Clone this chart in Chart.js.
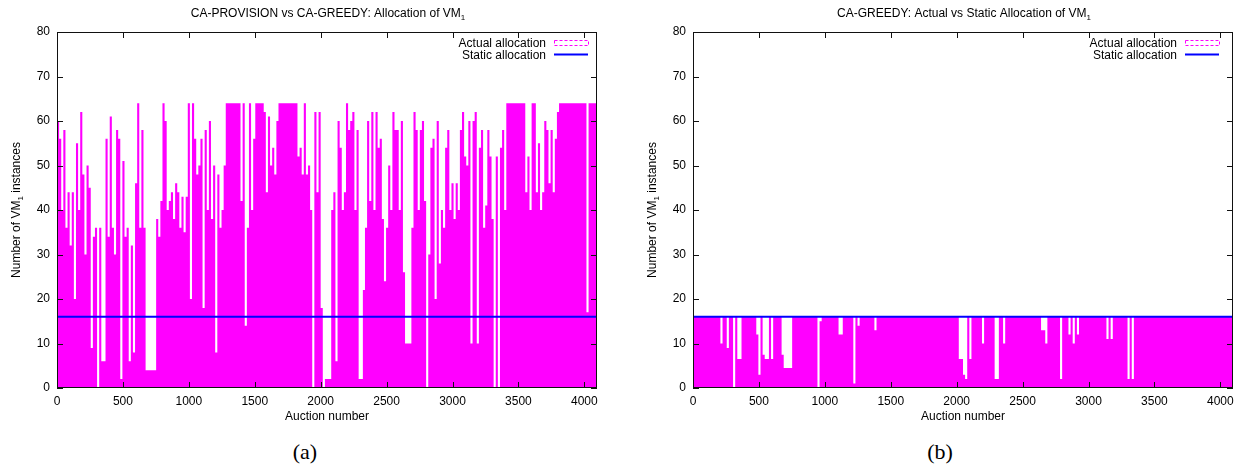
<!DOCTYPE html>
<html><head><meta charset="utf-8">
<script src="https://cdn.jsdelivr.net/npm/chart.js@4.4.1/dist/chart.umd.min.js"></script>
<style>
html,body{margin:0;padding:0;background:#fff;width:1245px;height:471px;overflow:hidden;}
#ca{position:absolute;left:0;top:0;}
#cb{position:absolute;left:636px;top:0;}
.lab{position:absolute;top:439px;width:60px;text-align:center;line-height:26px;font-family:'Liberation Serif','DejaVu Serif',serif;font-size:22px;color:#000;}
</style></head><body>
<canvas id="ca" width="620" height="430"></canvas>
<canvas id="cb" width="609" height="430"></canvas>
<div class="lab" style="left:275px">(a)</div>
<div class="lab" style="left:910px">(b)</div>
<script>
// ---- data (one value per 16-auction bin = max allocation in that bin) ----
const binWidth = 16;
const xMax = 4096;
const staticAlloc = 16;
const xTicks = [0, 500, 1000, 1500, 2000, 2500, 3000, 3500, 4000];
const yTicks = [0, 10, 20, 30, 40, 50, 60, 70, 80];

// (a) CA-PROVISION: actual allocation of VM1
const allocProvision = [
  60,56,40,58,36,44,32,44,20,55,
  40,62,48,30,50,45,9,34,36,0,
  36,6,6,56,34,61,36,30,58,56,
  2,51,34,36,6,32,8,46,64,36,
  58,36,4,4,4,4,4,38,34,42,
  64,60,40,42,44,38,46,44,36,43,
  35,43,64,20,64,56,48,50,56,18,
  58,40,60,38,50,8,48,36,40,50,
  64,64,64,64,64,64,64,42,64,14,
  36,64,40,56,64,64,64,64,62,44,
  61,50,54,48,60,64,64,64,64,64,
  64,64,64,64,52,54,48,64,48,50,
  40,0,62,44,62,18,0,2,2,2,
  40,44,6,60,54,40,44,64,58,60,
  62,40,58,2,2,22,36,60,42,62,
  40,62,54,56,38,24,36,50,40,62,
  58,58,40,60,26,10,10,10,36,62,
  58,40,58,60,42,0,30,54,56,20,
  60,28,40,36,54,58,40,46,38,46,
  40,58,62,52,50,60,10,60,62,10,
  54,58,36,41,58,52,38,0,52,0,
  54,58,40,64,64,64,64,64,64,64,
  64,64,44,52,40,64,64,44,55,40,
  44,60,58,46,58,44,56,62,64,64,
  64,64,64,64,64,64,64,64,64,64,
  64,17,64,64,64,64
];

// (b) CA-GREEDY: actual allocation of VM1
const allocGreedy = [
  16,16,16,16,16,16,16,16,16,16,
  16,16,16,10,16,16,9,16,16,0,
  16,6.5,6.5,16,16,16,16,16,16,16,
  12,3,16,7.5,6.5,6.5,16,6.5,16,16,
  16,16,7.5,4.5,4.5,4.5,4.5,16,16,16,
  16,16,16,16,16,16,16,16,16,0,
  15,16,16,16,16,16,16,16,16,12,
  12,16,16,16,16,16,1,16,14,16,
  16,16,16,16,16,16,13,16,16,16,
  16,16,16,16,16,16,16,16,16,16,
  16,16,16,16,16,16,16,16,16,16,
  16,16,16,16,16,16,16,16,16,16,
  16,16,16,16,16,16,6.5,6.5,3,2,
  16,6.5,16,16,16,16,16,10,16,16,
  16,16,16,2,2,16,16,10,16,16,
  16,16,16,16,16,16,16,16,16,16,
  16,16,16,16,16,13,13,10,16,16,
  16,16,16,16,2,16,16,16,12,16,
  10,16,12,16,16,16,16,16,16,16,
  16,16,16,16,16,16,11,16,11,16,
  16,16,16,16,16,16,2,16,2,16,
  16,16,16,16,16,16,16,16,16,16,
  16,16,16,16,16,16,16,16,16,16,
  16,16,16,16,16,16,16,16,16,16,
  16,16,16,16,16,16,16,16,16,16,
  16,16,16,16,16,16
];

const titleA = 'CA-PROVISION vs CA-GREEDY: Allocation of VM';
const titleB = 'CA-GREEDY: Actual vs Static Allocation of VM';
const yTitle = [['Number of VM', false], ['1', true], [' instances', false]];
const xTitle = 'Auction number';
const legendLabels = ['Actual allocation', 'Static allocation'];

// ---- drawing ----
const FONT = "'Liberation Sans', Arial, Helvetica, sans-serif";
const MAGENTA = '#ff00ff', BLUE = '#0000ff';

function drawRich(ctx, parts, x, y) {
  const big = '12px ' + FONT, small = '8px ' + FONT;
  let w = 0;
  for (const [t, s] of parts) { ctx.font = s ? small : big; w += ctx.measureText(t).width; }
  let cx = x - w / 2;
  ctx.textAlign = 'left'; ctx.textBaseline = 'alphabetic';
  for (const [t, s] of parts) {
    ctx.font = s ? small : big;
    ctx.fillText(t, cx, s ? y + 3 : y);
    cx += ctx.measureText(t).width;
  }
}

const framePlugin = {
  id: 'frame',
  afterDatasetsDraw(chart) {
    const {ctx, chartArea: a, scales: {x, y}} = chart;
    const o = chart.options.plugins.frame;
    ctx.save();
    ctx.strokeStyle = '#111'; ctx.lineWidth = 1;
    ctx.beginPath();
    for (const t of x.ticks) {
      const px = Math.round(x.getPixelForValue(t.value)) + 0.5;
      ctx.moveTo(px, a.bottom); ctx.lineTo(px, a.bottom - 6);
      ctx.moveTo(px, a.top); ctx.lineTo(px, a.top + 6);
    }
    for (const t of y.ticks) {
      const py = Math.round(y.getPixelForValue(t.value)) + 0.5;
      ctx.moveTo(a.left, py); ctx.lineTo(a.left + 6, py);
      ctx.moveTo(a.right, py); ctx.lineTo(a.right - 6, py);
    }
    ctx.stroke();
    ctx.strokeRect(a.left + 0.5, a.top + 0.5, a.right - a.left - 1, a.bottom - a.top - 1);

    // legend (inside, top right)
    const sR = a.right - o.legRight, sL = sR - 34, tR = sL - 8;
    ctx.fillStyle = '#000';
    ctx.font = '12px ' + FONT; ctx.textAlign = 'right'; ctx.textBaseline = 'alphabetic';
    ctx.fillText(legendLabels[0], tR, 47);
    ctx.fillText(legendLabels[1], tR, 59);
    ctx.strokeStyle = MAGENTA; ctx.setLineDash([3, 2]); ctx.lineWidth = 1;
    ctx.strokeRect(sL + 0.5, 40.5, 34, 5);
    ctx.setLineDash([]);
    ctx.strokeStyle = BLUE; ctx.lineWidth = 2;
    ctx.beginPath(); ctx.moveTo(sL, 54.5); ctx.lineTo(sR, 54.5); ctx.stroke();

    // titles
    ctx.fillStyle = '#000';
    const cx = (a.left + a.right) / 2;
    drawRich(ctx, [[o.title, false], ['1', true]], cx + 1, 17);
    ctx.font = '12px ' + FONT; ctx.textAlign = 'center';
    ctx.fillText(xTitle, cx, 420);
    ctx.translate(19.5, (a.top + a.bottom) / 2);
    ctx.rotate(-Math.PI / 2);
    drawRich(ctx, yTitle, 0, 0);
    ctx.restore();
  }
};

function makeChart(id, alloc, rightPad, title, legRight) {
  const pts = alloc.map((v, i) => ({x: i * binWidth, y: v}));
  pts.push({x: xMax, y: alloc[alloc.length - 1]});
  const tickFont = {family: FONT, size: 12};
  return new Chart(document.getElementById(id), {
    type: 'line',
    data: {
      datasets: [
        {label: legendLabels[0], data: pts, stepped: true, borderColor: MAGENTA,
         backgroundColor: MAGENTA, borderWidth: 0, fill: 'origin', pointRadius: 0, order: 2},
        {label: legendLabels[1], data: [{x: 0, y: staticAlloc}, {x: xMax, y: staticAlloc}],
         borderColor: BLUE, borderWidth: 2, pointRadius: 0, fill: false, order: 1}
      ]
    },
    options: {
      responsive: false, animation: false, devicePixelRatio: 1,
      layout: {padding: {top: 32, right: rightPad, left: 0, bottom: 0}},
      plugins: {legend: {display: false}, tooltip: {enabled: false}, title: {display: false},
                frame: {title: title, legRight: legRight}},
      scales: {
        x: {type: 'linear', min: 0, max: xMax,
            grid: {display: false, drawTicks: false}, border: {display: false},
            ticks: {font: tickFont, color: '#000', padding: 6, maxRotation: 0, autoSkip: false,
                    callback: v => String(v)},
            afterBuildTicks: s => { s.ticks = xTicks.map(v => ({value: v})); },
            afterFit: s => { s.height = 42; }},
        y: {type: 'linear', min: 0, max: 80,
            grid: {display: false, drawTicks: false}, border: {display: false},
            ticks: {font: tickFont, color: '#000', padding: 7, callback: v => String(v)},
            afterBuildTicks: s => { s.ticks = yTicks.map(v => ({value: v})); },
            afterFit: s => { s.width = 57; }}
      }
    },
    plugins: [framePlugin]
  });
}

makeChart('ca', allocProvision, 23, titleA, 9);
makeChart('cb', allocGreedy, 12, titleB, 14);
</script>
</body></html>
